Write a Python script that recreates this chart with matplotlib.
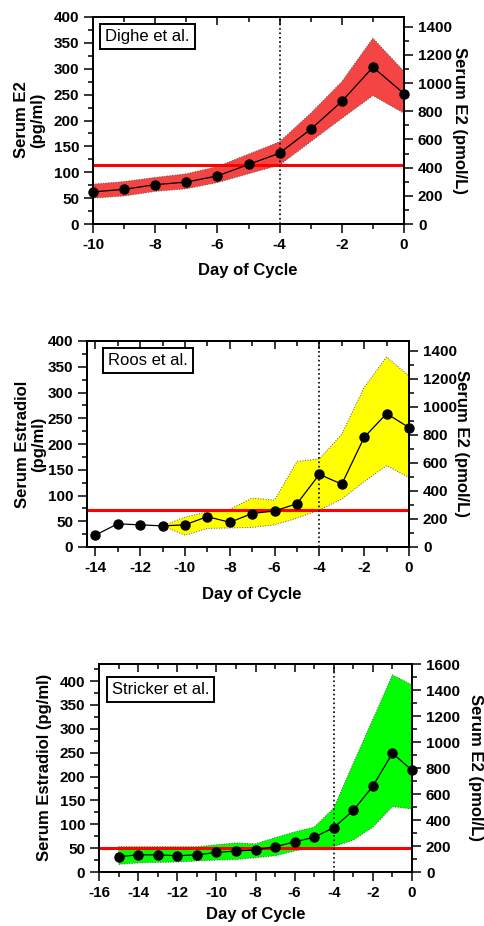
import numpy as np
import matplotlib.pyplot as plt
from matplotlib.ticker import MultipleLocator

plt.rcParams['font.family'] = ['Liberation Sans', 'DejaVu Sans']

PG_TO_PMOL = 3.671

# --- Dighe et al. ---
dighe_days = [-10, -9, -8, -7, -6, -5, -4, -3, -2, -1, 0]
dighe_mean = [62, 67, 76, 81, 93, 115, 137, 183, 237, 303, 252]
dighe_hi = [77, 82, 90, 97, 111, 135, 159, 214, 275, 359, 295]
dighe_lo = [50, 54, 63, 68, 80, 97, 114, 159, 204, 248, 214]
dighe_cut = 114

# --- Roos et al. ---
roos_days = [-14, -13, -12, -11, -10, -9, -8, -7, -6, -5, -4, -3, -2, -1, 0]
roos_mean = [23, 45, 43, 41, 43, 59, 48, 65, 70, 84, 141, 122, 213, 259, 232]
roos_band_days = [-11, -10, -9, -8, -7, -6, -5, -4, -3, -2, -1, 0]
roos_hi = [41, 58, 68, 73, 95, 91, 166, 171, 219, 310, 369, 332]
roos_lo = [41, 23, 36, 37, 38, 43, 56, 72, 93, 127, 158, 135]
roos_cut = 72

# --- Stricker et al. ---
stricker_days = [-15, -14, -13, -12, -11, -10, -9, -8, -7, -6, -5, -4, -3, -2, -1, 0]
stricker_mean = [32, 36, 36, 34, 36, 41, 44, 46, 53, 63, 73, 93, 129, 180, 249, 213]
stricker_hi = [53, 53, 53, 53, 53, 57, 61, 59, 72, 84, 94, 134, 228, 320, 413, 392]
stricker_lo = [16, 19, 20, 21, 23, 25, 26, 30, 34, 44, 51, 53, 67, 94, 137, 132]
stricker_cut = 51

W, H = 484, 926
fig = plt.figure(figsize=(W / 100, H / 100), dpi=100)


def px_axes(left, top, right, bottom):
    return fig.add_axes([left / W, 1 - bottom / H, (right - left) / W, (bottom - top) / H])


def panel(ax, days, mean, band_days, hi, lo, cut, color, xlim, ylim, rlim,
          name, name_xy, left_label, left_xy, right_xy, xlabel_xy):
    ax.fill_between(band_days, lo, hi, facecolor=color, edgecolor='#555555',
                    linestyle=':', linewidth=0.7, zorder=1)
    ax.axhline(cut, color='#ff0000', lw=2.2, zorder=2)
    ax.axvline(-4, color='black', ls=':', lw=1.2, zorder=2)
    ax.plot(days, mean, color='black', lw=0.9, marker='o', ms=6.5, zorder=4,
            clip_on=False)
    ax.set_xlim(*xlim)
    ax.set_ylim(*ylim)

    ax.xaxis.set_major_locator(MultipleLocator(2))
    ax.xaxis.set_minor_locator(MultipleLocator(1))
    ax.yaxis.set_major_locator(MultipleLocator(50))
    ax.yaxis.set_minor_locator(MultipleLocator(25))
    ax.tick_params(which='both', direction='out', width=1.1, labelsize=11)
    ax.tick_params(which='major', length=6.5)
    ax.tick_params(which='minor', length=3.5)
    for lab in ax.get_xticklabels() + ax.get_yticklabels():
        lab.set_fontweight('bold')
    ax.xaxis.set_major_formatter(plt.FuncFormatter(lambda v, p: '%d' % v))
    for s in ax.spines.values():
        s.set_linewidth(1.4)

    top = ax.secondary_xaxis('top')
    top.xaxis.set_major_locator(MultipleLocator(2))
    top.xaxis.set_minor_locator(MultipleLocator(1))
    top.tick_params(which='both', direction='in', width=1.1, labeltop=False)
    top.tick_params(which='major', length=6)
    top.tick_params(which='minor', length=3.5)
    top.spines['top'].set_linewidth(1.4)

    r = ax.twinx()
    r.set_ylim(*rlim)
    r.yaxis.set_major_locator(MultipleLocator(200))
    r.yaxis.set_minor_locator(MultipleLocator(100))
    r.tick_params(which='both', direction='out', width=1.1, labelsize=11)
    r.tick_params(which='major', length=6.5)
    r.tick_params(which='minor', length=3.5)
    for lab in r.get_yticklabels():
        lab.set_fontweight('bold')
    for s in r.spines.values():
        s.set_linewidth(1.4)

    ax.text(name_xy[0], name_xy[1], name, transform=ax.transAxes, fontsize=12,
            ha='left', va='center', zorder=6,
            bbox=dict(boxstyle='square,pad=0.3', facecolor='white',
                      edgecolor='black', linewidth=1.4))

    fig.text(left_xy[0] / W, 1 - left_xy[1] / H, left_label, rotation=90,
             ha='center', va='center', fontsize=12, fontweight='bold',
             multialignment='center', linespacing=1.1)
    fig.text(right_xy[0] / W, 1 - right_xy[1] / H, 'Serum E2 (pmol/L)',
             rotation=270, ha='center', va='center', fontsize=12,
             fontweight='bold')
    fig.text(xlabel_xy[0] / W, 1 - xlabel_xy[1] / H, 'Day of Cycle',
             ha='center', va='center', fontsize=12, fontweight='bold')


ax1 = px_axes(93, 17, 404, 224)
panel(ax1, dighe_days, dighe_mean, dighe_days, dighe_hi, dighe_lo, dighe_cut,
      '#f54444', (-10, 0), (0, 400), (0, 400 * PG_TO_PMOL),
      'Dighe et al.', (0.04, 0.906), 'Serum E2\n(pg/ml)', (29.5, 120),
      (459, 120.5), (248, 270))

ax2 = px_axes(87, 341, 409, 547)
panel(ax2, roos_days, roos_mean, roos_band_days, roos_hi, roos_lo, roos_cut,
      '#ffff00', (-14.37, 0), (0, 400), (0, 400 * PG_TO_PMOL),
      'Roos et al.', (0.065, 0.906), 'Serum Estradiol\n(pg/ml)', (31, 444),
      (462, 444), (252, 594))

ax3 = px_axes(99, 664, 412, 872)
panel(ax3, stricker_days, stricker_mean, stricker_days, stricker_hi, stricker_lo,
      stricker_cut, '#00ff00', (-16, 0), (0, 1600 / PG_TO_PMOL), (0, 1600),
      'Stricker et al.', (0.04, 0.878), 'Serum Estradiol (pg/ml)', (44.5, 767),
      (476, 768), (256, 915))

fig.savefig('out.png', dpi=100)
